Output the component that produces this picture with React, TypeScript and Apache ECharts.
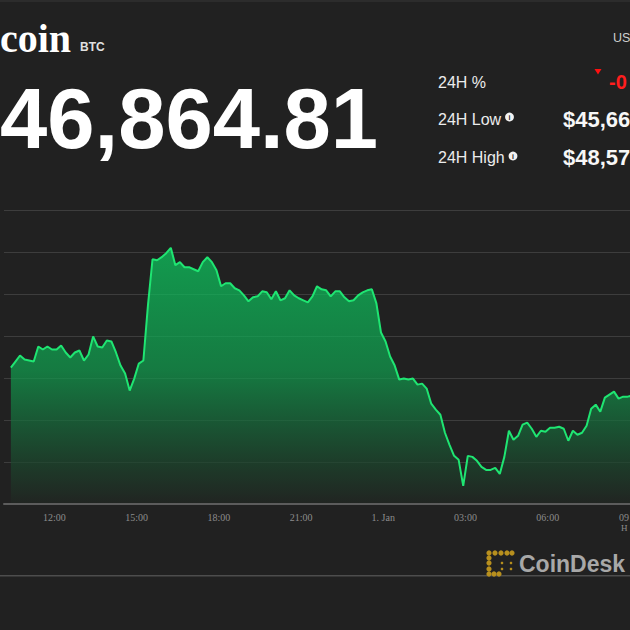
import { useEffect, useRef } from "react";
import * as echarts from "echarts";

// 31 Dec 10:25, one reading every 10 minutes
const START_HOUR = 10 + 25 / 60;
const STEP_MINUTES = 10;

const prices = [
  47124, 47196, 47268, 47220, 47208, 47196, 47375, 47339, 47375, 47339,
  47339, 47387, 47304, 47244, 47304, 47327, 47208, 47280, 47495, 47375,
  47363, 47447, 47435, 47304, 47148, 47053, 46850, 46993, 47172, 47208,
  47865, 48414, 48402, 48438, 48486, 48550, 48343, 48379, 48319, 48319,
  48295, 48271, 48379, 48438, 48379, 48283, 48092, 48128, 48128, 48068,
  48044, 47984, 47913, 47961, 47972, 48032, 48020, 47937, 48032, 47925,
  47949, 48044, 47984, 47949, 47925, 47901, 47972, 48092, 48056, 48044,
  47972, 48032, 48032, 47961, 47913, 47925, 47984, 48020, 48044, 48056,
  47889, 47542, 47435, 47256, 47148, 46981, 46993, 46981, 46993, 46921,
  46933, 46874, 46694, 46623, 46563, 46348, 46205, 46073, 46026, 45715,
  46073, 46061, 46014, 45942, 45906, 45906, 45930, 45858, 46061, 46372,
  46264, 46312, 46444, 46468, 46396, 46300, 46372, 46360, 46408, 46408,
  46420, 46396, 46253, 46372, 46324, 46348, 46432, 46635, 46683, 46599,
  46766, 46802, 46838, 46754, 46778, 46778, 46790,
];

const tickHours = [12, 15, 18, 21, 24, 27, 30];
const edgeTickLabel = "09";
const statLabels = ["24H %", "24H Low", "24H High"];
// visible parts of the (cropped) header texts
const statValues = ["-0", "$45,66", "$48,57"];
const coinName = "coin";
const coinTicker = "BTC";
const currentPrice = "46,864.81";
const currency = "US";
const tzNote = "H";

const Y_MIN = 45500;
const Y_MAX = 49000;
const Y_STEP = 500;

const SANS = '"Liberation Sans", Arial, sans-serif';
const SERIF = '"Liberation Serif", "Times New Roman", serif';
const GOLD = "#b8901e";

function fmtHour(v: number): string {
  const h = Math.round(v);
  if (h === 24) return "1. Jan";
  return String(h % 24).padStart(2, "0") + ":00";
}

export default function App() {
  const ref = useRef<HTMLDivElement>(null);

  useEffect(() => {
    if (!ref.current) return;
    const chart = echarts.init(ref.current, undefined, { renderer: "svg" });

    const data = prices.map((p, i) => [START_HOUR + (i * STEP_MINUTES) / 60, p]);
    const statY = [82, 119, 157];

    const logoDots: any[] = [];
    [489, 495, 501, 507, 512].forEach((x) =>
      logoDots.push({ type: "circle", shape: { cx: x, cy: 553, r: 2.6 }, style: { fill: GOLD } })
    );
    [558, 563, 569].forEach((y) =>
      logoDots.push({ type: "circle", shape: { cx: 489, cy: y, r: 2.6 }, style: { fill: GOLD } })
    );
    [489, 494, 499].forEach((x) =>
      logoDots.push({ type: "circle", shape: { cx: x, cy: 574, r: 2.6 }, style: { fill: GOLD } })
    );
    [
      [502, 563],
      [502, 569],
      [511, 563],
      [511, 569],
    ].forEach(([x, y]) =>
      logoDots.push({ type: "circle", shape: { cx: x, cy: y, r: 1.3 }, style: { fill: GOLD } })
    );

    const graphics: any[] = [
      { type: "rect", shape: { x: 0, y: 0, width: 630, height: 2 }, style: { fill: "#2c2c2c" } },
      {
        type: "text",
        x: 0,
        y: 38.5,
        style: {
          text: coinName,
          fontFamily: SERIF,
          fontWeight: "bold",
          fontSize: 40,
          fill: "#ffffff",
          verticalAlign: "middle",
        },
      },
      {
        type: "text",
        x: 80,
        y: 47,
        style: {
          text: coinTicker,
          fontFamily: SANS,
          fontWeight: "bold",
          fontSize: 12,
          fill: "#e0e0e0",
          verticalAlign: "middle",
        },
      },
      {
        type: "text",
        x: 0,
        y: 118,
        style: {
          text: currentPrice,
          fontFamily: SANS,
          fontWeight: "bold",
          fontSize: 85,
          fill: "#ffffff",
          verticalAlign: "middle",
        },
      },
      {
        type: "text",
        x: 613,
        y: 38,
        style: { text: currency, fontFamily: SANS, fontSize: 12.5, fill: "#cfcfcf", verticalAlign: "middle" },
      },
      ...statLabels.map((t, i) => ({
        type: "text",
        x: 438,
        y: statY[i],
        style: { text: t, fontFamily: SANS, fontSize: 16, fill: "#ececec", verticalAlign: "middle" },
      })),
      ...[
        [509.5, 117],
        [513, 156],
      ].flatMap(([cx, cy]) => [
        { type: "circle", shape: { cx, cy, r: 4.4 }, style: { fill: "#f2f2f2" } },
        {
          type: "text",
          x: cx,
          y: cy + 0.5,
          style: {
            text: "i",
            fontFamily: SANS,
            fontWeight: "bold",
            fontSize: 7,
            fill: "#222222",
            align: "center",
            verticalAlign: "middle",
          },
        },
      ]),
      {
        type: "polygon",
        shape: {
          points: [
            [594.5, 69],
            [601.5, 69],
            [598, 74.5],
          ],
        },
        style: { fill: "#ff1010" },
      },
      {
        type: "text",
        x: 609,
        y: statY[0],
        style: {
          text: statValues[0],
          fontFamily: SANS,
          fontWeight: "bold",
          fontSize: 20,
          fill: "#ff1e1e",
          verticalAlign: "middle",
        },
      },
      ...[1, 2].map((i) => ({
        type: "text",
        x: 563,
        y: statY[i],
        style: {
          text: statValues[i],
          fontFamily: SANS,
          fontWeight: "bold",
          fontSize: 22,
          fill: "#f7f7f7",
          verticalAlign: "middle",
        },
      })),
      {
        type: "text",
        x: 619,
        y: 517,
        style: { text: edgeTickLabel, fontFamily: SERIF, fontSize: 10, fill: "#8c8c8c", verticalAlign: "middle" },
      },
      {
        type: "text",
        x: 621,
        y: 528,
        style: { text: tzNote, fontFamily: SERIF, fontSize: 9, fill: "#8c8c8c", verticalAlign: "middle" },
      },
      { type: "rect", shape: { x: 0, y: 575, width: 630, height: 1.5 }, style: { fill: "#4d4d4d" } },
      ...logoDots,
      {
        type: "text",
        x: 519,
        y: 563.5,
        style: {
          text: "CoinDesk",
          fontFamily: SANS,
          fontWeight: "bold",
          fontSize: 23,
          fill: "#a8a8a8",
          verticalAlign: "middle",
        },
      },
    ];

    chart.setOption({
      animation: false,
      backgroundColor: "#212121",
      grid: {
        left: 4,
        right: 0,
        top: 210,
        bottom: 126,
        containLabel: false,
        outerBoundsMode: "none",
      },
      xAxis: {
        type: "value",
        min: 10.166,
        max: 33,
        z: 3,
        axisLine: { show: true, lineStyle: { color: "#5c5c5c", width: 2 } },
        axisTick: { show: false },
        splitLine: { show: false },
        axisLabel: {
          customValues: tickHours,
          formatter: fmtHour,
          color: "#8c8c8c",
          fontFamily: SERIF,
          fontSize: 10,
          margin: 8,
        },
      },
      yAxis: {
        type: "value",
        min: Y_MIN,
        max: Y_MAX,
        interval: Y_STEP,
        z: 3,
        axisLine: { show: false },
        axisTick: { show: false },
        axisLabel: { show: false },
        splitLine: { show: true, lineStyle: { color: "rgba(255,255,255,0.13)", width: 1 } },
      },
      series: [
        {
          type: "line",
          data,
          showSymbol: false,
          symbol: "none",
          clip: true,
          lineStyle: { color: "#1fe572", width: 2 },
          areaStyle: {
            color: new echarts.graphic.LinearGradient(0, 0, 0, 1, [
              { offset: 0, color: "#0ccf62" },
              { offset: 0.48, color: "#10a04f" },
              { offset: 0.68, color: "#166e3c" },
              { offset: 0.83, color: "#1b4a2e" },
              { offset: 1, color: "#212622" },
            ]),
          },
        },
      ],
      graphic: graphics,
    });

    return () => chart.dispose();
  }, []);

  return (
    <div
      ref={ref}
      style={{ position: "fixed", left: 0, top: 0, width: 630, height: 630, overflow: "hidden" }}
    />
  );
}
